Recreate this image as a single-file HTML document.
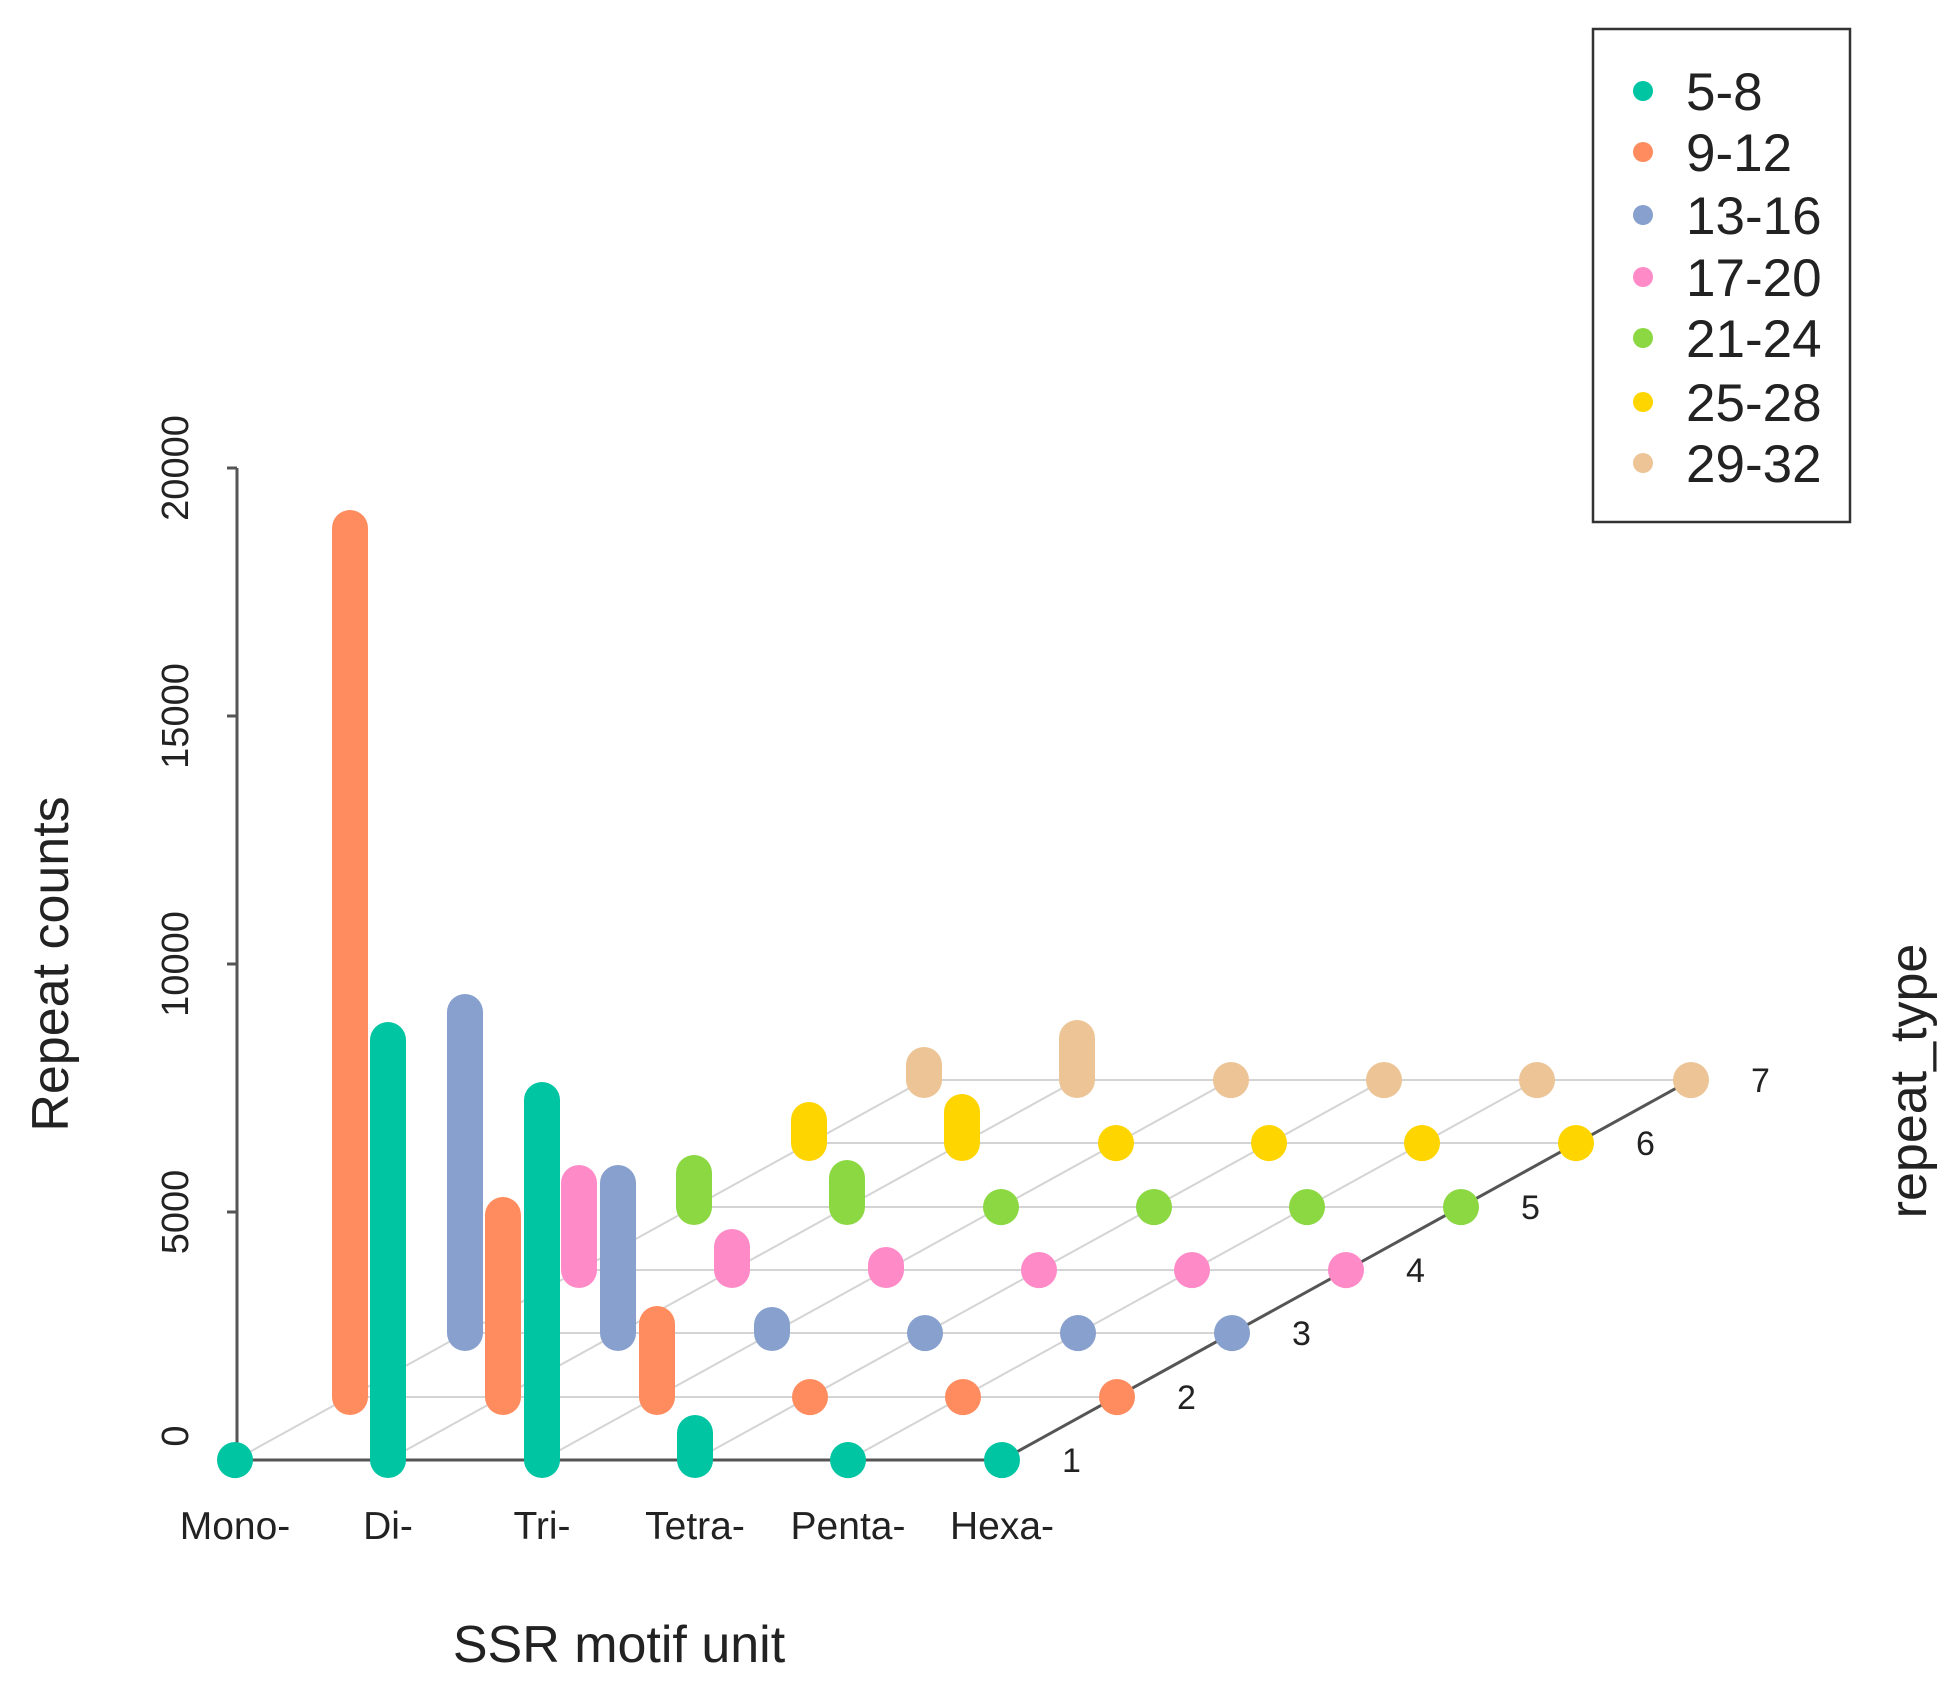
<!DOCTYPE html>
<html><head><meta charset="utf-8"><style>html,body{margin:0;padding:0;background:#fff}svg{display:block}</style></head>
<body>
<svg width="1960" height="1692" viewBox="0 0 1960 1692" xmlns="http://www.w3.org/2000/svg" font-family="Liberation Sans, sans-serif">
<rect width="1960" height="1692" fill="#fff"/>
<g stroke="#d4d4d4" stroke-width="2">
<line x1="350" y1="1397" x2="1117" y2="1397"/>
<line x1="465" y1="1333" x2="1232" y2="1333"/>
<line x1="579" y1="1270" x2="1346" y2="1270"/>
<line x1="694" y1="1207" x2="1461" y2="1207"/>
<line x1="809" y1="1143" x2="1576" y2="1143"/>
<line x1="924" y1="1080" x2="1691" y2="1080"/>
<line x1="235" y1="1460" x2="924" y2="1080"/>
<line x1="388" y1="1460" x2="1077" y2="1080"/>
<line x1="542" y1="1460" x2="1231" y2="1080"/>
<line x1="695" y1="1460" x2="1384" y2="1080"/>
<line x1="848" y1="1460" x2="1537" y2="1080"/>
</g>
<g stroke="#555" stroke-width="3">
<line x1="235" y1="1460" x2="1002" y2="1460"/>
<line x1="1002" y1="1460" x2="1691" y2="1080"/>
<line x1="237" y1="468" x2="237" y2="1460"/>
<line x1="227" y1="468" x2="237" y2="468"/>
<line x1="227" y1="716" x2="237" y2="716"/>
<line x1="227" y1="964" x2="237" y2="964"/>
<line x1="227" y1="1212" x2="237" y2="1212"/>
<line x1="227" y1="1460" x2="237" y2="1460"/>
</g>
<g stroke-width="36" stroke-linecap="round">
<g stroke="#EDC495"><line x1="924" y1="1080" x2="924" y2="1065"/><line x1="1077" y1="1080" x2="1077" y2="1038"/><line x1="1231" y1="1080" x2="1231" y2="1080.1"/><line x1="1384" y1="1080" x2="1384" y2="1080.1"/><line x1="1537" y1="1080" x2="1537" y2="1080.1"/><line x1="1691" y1="1080" x2="1691" y2="1080.1"/></g>
<g stroke="#FFD500"><line x1="809" y1="1143" x2="809" y2="1120"/><line x1="962" y1="1143" x2="962" y2="1112"/><line x1="1116" y1="1143" x2="1116" y2="1143.1"/><line x1="1269" y1="1143" x2="1269" y2="1143.1"/><line x1="1422" y1="1143" x2="1422" y2="1143.1"/><line x1="1576" y1="1143" x2="1576" y2="1143.1"/></g>
<g stroke="#8CD843"><line x1="694" y1="1207" x2="694" y2="1173"/><line x1="847" y1="1207" x2="847" y2="1178"/><line x1="1001" y1="1207" x2="1001" y2="1207.1"/><line x1="1154" y1="1207" x2="1154" y2="1207.1"/><line x1="1307" y1="1207" x2="1307" y2="1207.1"/><line x1="1461" y1="1207" x2="1461" y2="1207.1"/></g>
<g stroke="#FF8AC8"><line x1="579" y1="1270" x2="579" y2="1183"/><line x1="732" y1="1270" x2="732" y2="1247"/><line x1="886" y1="1270" x2="886" y2="1265"/><line x1="1039" y1="1270" x2="1039" y2="1270.1"/><line x1="1192" y1="1270" x2="1192" y2="1270.1"/><line x1="1346" y1="1270" x2="1346" y2="1270.1"/></g>
<g stroke="#87A0CD"><line x1="465" y1="1333" x2="465" y2="1012"/><line x1="618" y1="1333" x2="618" y2="1183"/><line x1="772" y1="1333" x2="772" y2="1325"/><line x1="925" y1="1333" x2="925" y2="1333.1"/><line x1="1078" y1="1333" x2="1078" y2="1333.1"/><line x1="1232" y1="1333" x2="1232" y2="1333.1"/></g>
<g stroke="#FF8C5F"><line x1="350" y1="1397" x2="350" y2="528"/><line x1="503" y1="1397" x2="503" y2="1215"/><line x1="657" y1="1397" x2="657" y2="1324"/><line x1="810" y1="1397" x2="810" y2="1397.1"/><line x1="963" y1="1397" x2="963" y2="1397.1"/><line x1="1117" y1="1397" x2="1117" y2="1397.1"/></g>
<g stroke="#00C5A3"><line x1="235" y1="1460" x2="235" y2="1460.1"/><line x1="388" y1="1460" x2="388" y2="1040"/><line x1="542" y1="1460" x2="542" y2="1100"/><line x1="695" y1="1460" x2="695" y2="1433"/><line x1="848" y1="1460" x2="848" y2="1460.1"/><line x1="1002" y1="1460" x2="1002" y2="1460.1"/></g>
</g>
<g font-size="38" fill="#222" text-anchor="middle">
<text transform="translate(188,468) rotate(-90)">20000</text>
<text transform="translate(188,716) rotate(-90)">15000</text>
<text transform="translate(188,964) rotate(-90)">10000</text>
<text transform="translate(188,1212) rotate(-90)">5000</text>
<text transform="translate(188,1436) rotate(-90)">0</text>
</g>
<g font-size="39" fill="#222" text-anchor="middle">
<text x="235" y="1539">Mono-</text>
<text x="388" y="1539">Di-</text>
<text x="542" y="1539">Tri-</text>
<text x="695" y="1539">Tetra-</text>
<text x="848" y="1539">Penta-</text>
<text x="1002" y="1539">Hexa-</text>
</g>
<g font-size="34" fill="#222">
<text x="1062" y="1472">1</text>
<text x="1177" y="1409">2</text>
<text x="1292" y="1345">3</text>
<text x="1406" y="1282">4</text>
<text x="1521" y="1219">5</text>
<text x="1636" y="1155">6</text>
<text x="1751" y="1092">7</text>
</g>
<g font-size="52" fill="#222" text-anchor="middle">
<text x="619" y="1662">SSR motif unit</text>
<text transform="translate(68,964) rotate(-90)">Repeat counts</text>
<text transform="translate(1926,1081) rotate(-90)">repeat_type</text>
</g>
<rect x="1593" y="29" width="257" height="493" fill="#fff" stroke="#333" stroke-width="2.5"/>
<g>
<circle cx="1643" cy="91" r="10" fill="#00C5A3"/>
<circle cx="1643" cy="152" r="10" fill="#FF8C5F"/>
<circle cx="1643" cy="215" r="10" fill="#87A0CD"/>
<circle cx="1643" cy="277" r="10" fill="#FF8AC8"/>
<circle cx="1643" cy="338" r="10" fill="#8CD843"/>
<circle cx="1643" cy="402" r="10" fill="#FFD500"/>
<circle cx="1643" cy="463" r="10" fill="#EDC495"/>
</g>
<g font-size="53" fill="#222">
<text x="1686" y="110">5-8</text>
<text x="1686" y="171">9-12</text>
<text x="1686" y="234">13-16</text>
<text x="1686" y="296">17-20</text>
<text x="1686" y="357">21-24</text>
<text x="1686" y="421">25-28</text>
<text x="1686" y="482">29-32</text>
</g>
</svg>
</body></html>
